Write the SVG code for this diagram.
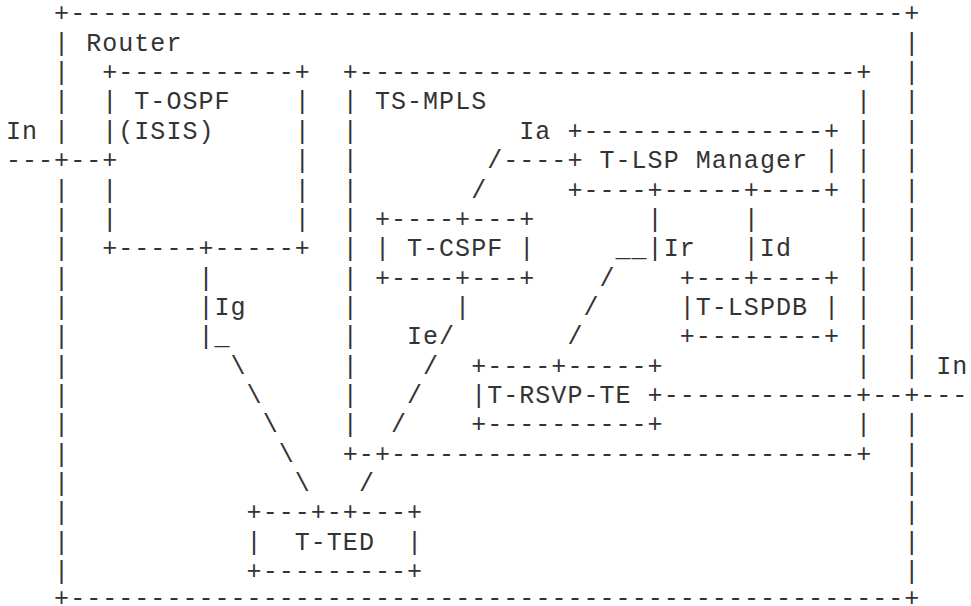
<svg xmlns="http://www.w3.org/2000/svg" width="971" height="606" viewBox="0 0 971 606" xml:space="preserve">
  <style>
    text { font-family: "Liberation Mono", "DejaVu Sans Mono", monospace; font-size: 25px; letter-spacing: 1.04px; fill: #333; white-space: pre; }
  </style>
  <rect width="971" height="606" fill="#fff"/>

  <!-- Router: outer enclosure -->
  <g id="router">
    <text x="54.12" y="21.4">+----------------------------------------------------+</text>
    <text x="54.12" y="606">+----------------------------------------------------+</text>
    <text x="54.12" y="50.75">| Router</text>
    <text>
      <tspan x="54.12" y="80.1">|</tspan><tspan x="54.12" y="109.45">|</tspan><tspan x="54.12" y="138.8">|</tspan><tspan x="54.12" y="168.15">+</tspan><tspan x="54.12" y="197.5">|</tspan><tspan x="54.12" y="226.85">|</tspan><tspan x="54.12" y="256.2">|</tspan><tspan x="54.12" y="285.55">|</tspan><tspan x="54.12" y="314.9">|</tspan><tspan x="54.12" y="344.25">|</tspan><tspan x="54.12" y="373.6">|</tspan><tspan x="54.12" y="402.95">|</tspan><tspan x="54.12" y="432.3">|</tspan><tspan x="54.12" y="461.65">|</tspan><tspan x="54.12" y="491">|</tspan><tspan x="54.12" y="520.35">|</tspan><tspan x="54.12" y="549.7">|</tspan><tspan x="54.12" y="579.05">|</tspan>
    </text>
    <text>
      <tspan x="904.24" y="50.75">|</tspan><tspan x="904.24" y="80.1">|</tspan><tspan x="904.24" y="109.45">|</tspan><tspan x="904.24" y="138.8">|</tspan><tspan x="904.24" y="168.15">|</tspan><tspan x="904.24" y="197.5">|</tspan><tspan x="904.24" y="226.85">|</tspan><tspan x="904.24" y="256.2">|</tspan><tspan x="904.24" y="285.55">|</tspan><tspan x="904.24" y="314.9">|</tspan><tspan x="904.24" y="344.25">|</tspan><tspan x="904.24" y="373.6">|</tspan><tspan x="904.24" y="402.95">+</tspan><tspan x="904.24" y="432.3">|</tspan><tspan x="904.24" y="461.65">|</tspan><tspan x="904.24" y="491">|</tspan><tspan x="904.24" y="520.35">|</tspan><tspan x="904.24" y="549.7">|</tspan><tspan x="904.24" y="579.05">|</tspan>
    </text>
  </g>

  <!-- T-OSPF (ISIS) -->
  <g id="t-ospf">
    <text x="102.24" y="80.1">+-----------+</text>
    <text x="102.24" y="109.45">| T-OSPF    |</text>
    <text x="102.24" y="138.8">|(ISIS)     |</text>
    <text x="102.24" y="168.15">+           |</text>
    <text x="102.24" y="197.5">|           |</text>
    <text x="102.24" y="226.85">|           |</text>
    <text x="102.24" y="256.2">+-----+-----+</text>
  </g>

  <!-- TS-MPLS container -->
  <g id="ts-mpls">
    <text x="342.84" y="80.1">+-------------------------------+</text>
    <text x="342.84" y="109.45">| TS-MPLS</text>
    <text>
      <tspan x="342.84" y="138.8">|</tspan><tspan x="342.84" y="168.15">|</tspan><tspan x="342.84" y="197.5">|</tspan><tspan x="342.84" y="226.85">|</tspan><tspan x="342.84" y="256.2">|</tspan><tspan x="342.84" y="285.55">|</tspan><tspan x="342.84" y="314.9">|</tspan><tspan x="342.84" y="344.25">|</tspan><tspan x="342.84" y="373.6">|</tspan><tspan x="342.84" y="402.95">|</tspan><tspan x="342.84" y="432.3">|</tspan>
    </text>
    <text>
      <tspan x="856.12" y="109.45">|</tspan><tspan x="856.12" y="138.8">|</tspan><tspan x="856.12" y="168.15">|</tspan><tspan x="856.12" y="197.5">|</tspan><tspan x="856.12" y="226.85">|</tspan><tspan x="856.12" y="256.2">|</tspan><tspan x="856.12" y="285.55">|</tspan><tspan x="856.12" y="314.9">|</tspan><tspan x="856.12" y="344.25">|</tspan><tspan x="856.12" y="373.6">|</tspan><tspan x="856.12" y="402.95">+</tspan><tspan x="856.12" y="432.3">|</tspan>
    </text>
    <text x="342.84" y="461.65">+-+-----------------------------+</text>
  </g>

  <!-- T-LSP Manager -->
  <g id="t-lsp-manager">
    <text x="567.4" y="138.8">+---------------+</text>
    <text x="567.4" y="168.15">+ T-LSP Manager |</text>
    <text x="567.4" y="197.5">+----+-----+----+</text>
  </g>

  <!-- T-CSPF -->
  <g id="t-cspf">
    <text x="374.92" y="226.85">+----+---+</text>
    <text x="374.92" y="256.2">| T-CSPF |</text>
    <text x="374.92" y="285.55">+----+---+</text>
  </g>

  <!-- T-LSPDB -->
  <g id="t-lspdb">
    <text x="679.68" y="285.55">+---+----+</text>
    <text x="679.68" y="314.9">|T-LSPDB |</text>
    <text x="679.68" y="344.25">+--------+</text>
  </g>

  <!-- T-RSVP-TE -->
  <g id="t-rsvp-te">
    <text x="471.16" y="373.6">+----+-----+</text>
    <text x="471.16" y="402.95">|T-RSVP-TE +</text>
    <text x="471.16" y="432.3">+----------+</text>
  </g>

  <!-- T-TED -->
  <g id="t-ted">
    <text x="246.6" y="520.35">+---+-+---+</text>
    <text x="246.6" y="549.7">|  T-TED  |</text>
    <text x="246.6" y="579.05">+---------+</text>
  </g>

  <!-- Interfaces between components -->
  <g id="connectors">
    <!-- In: external interface into T-OSPF -->
    <text x="6" y="138.8">In</text>
    <text x="6" y="168.15">---</text>
    <text x="70.16" y="168.15">--</text>
    <!-- Ia: T-CSPF to T-LSP Manager -->
    <text x="519.28" y="138.8">Ia</text>
    <text x="487.2" y="168.15">/----</text>
    <text x="471.16" y="197.5">/</text>
    <!-- Ig: T-OSPF to T-TED -->
    <text x="198.48" y="285.55">|</text>
    <text x="198.48" y="314.9">|Ig</text>
    <text x="198.48" y="344.25">|_</text>
    <text x="230.56" y="373.6">\</text>
    <text x="246.6" y="402.95">\</text>
    <text x="262.64" y="432.3">\</text>
    <text x="278.68" y="461.65">\</text>
    <text x="294.72" y="491">\</text>
    <!-- Ie: T-CSPF to T-TED -->
    <text x="455.12" y="314.9">|</text>
    <text x="407" y="344.25">Ie/</text>
    <text x="423.04" y="373.6">/</text>
    <text x="407" y="402.95">/</text>
    <text x="390.96" y="432.3">/</text>
    <text x="358.88" y="491">/</text>
    <!-- Ir: T-LSP Manager to T-RSVP-TE -->
    <text x="647.6" y="226.85">|</text>
    <text x="615.52" y="256.2">__|Ir</text>
    <text x="599.48" y="285.55">/</text>
    <text x="583.44" y="314.9">/</text>
    <text x="567.4" y="344.25">/</text>
    <!-- Id: T-LSP Manager to T-LSPDB -->
    <text x="743.84" y="226.85">|</text>
    <text x="743.84" y="256.2">|Id</text>
    <!-- In: external interface out of T-RSVP-TE -->
    <text x="936.32" y="373.6">In</text>
    <text x="663.64" y="402.95">------------</text>
    <text x="872.16" y="402.95">--</text>
    <text x="920.28" y="402.95">----</text>
  </g>
</svg>
